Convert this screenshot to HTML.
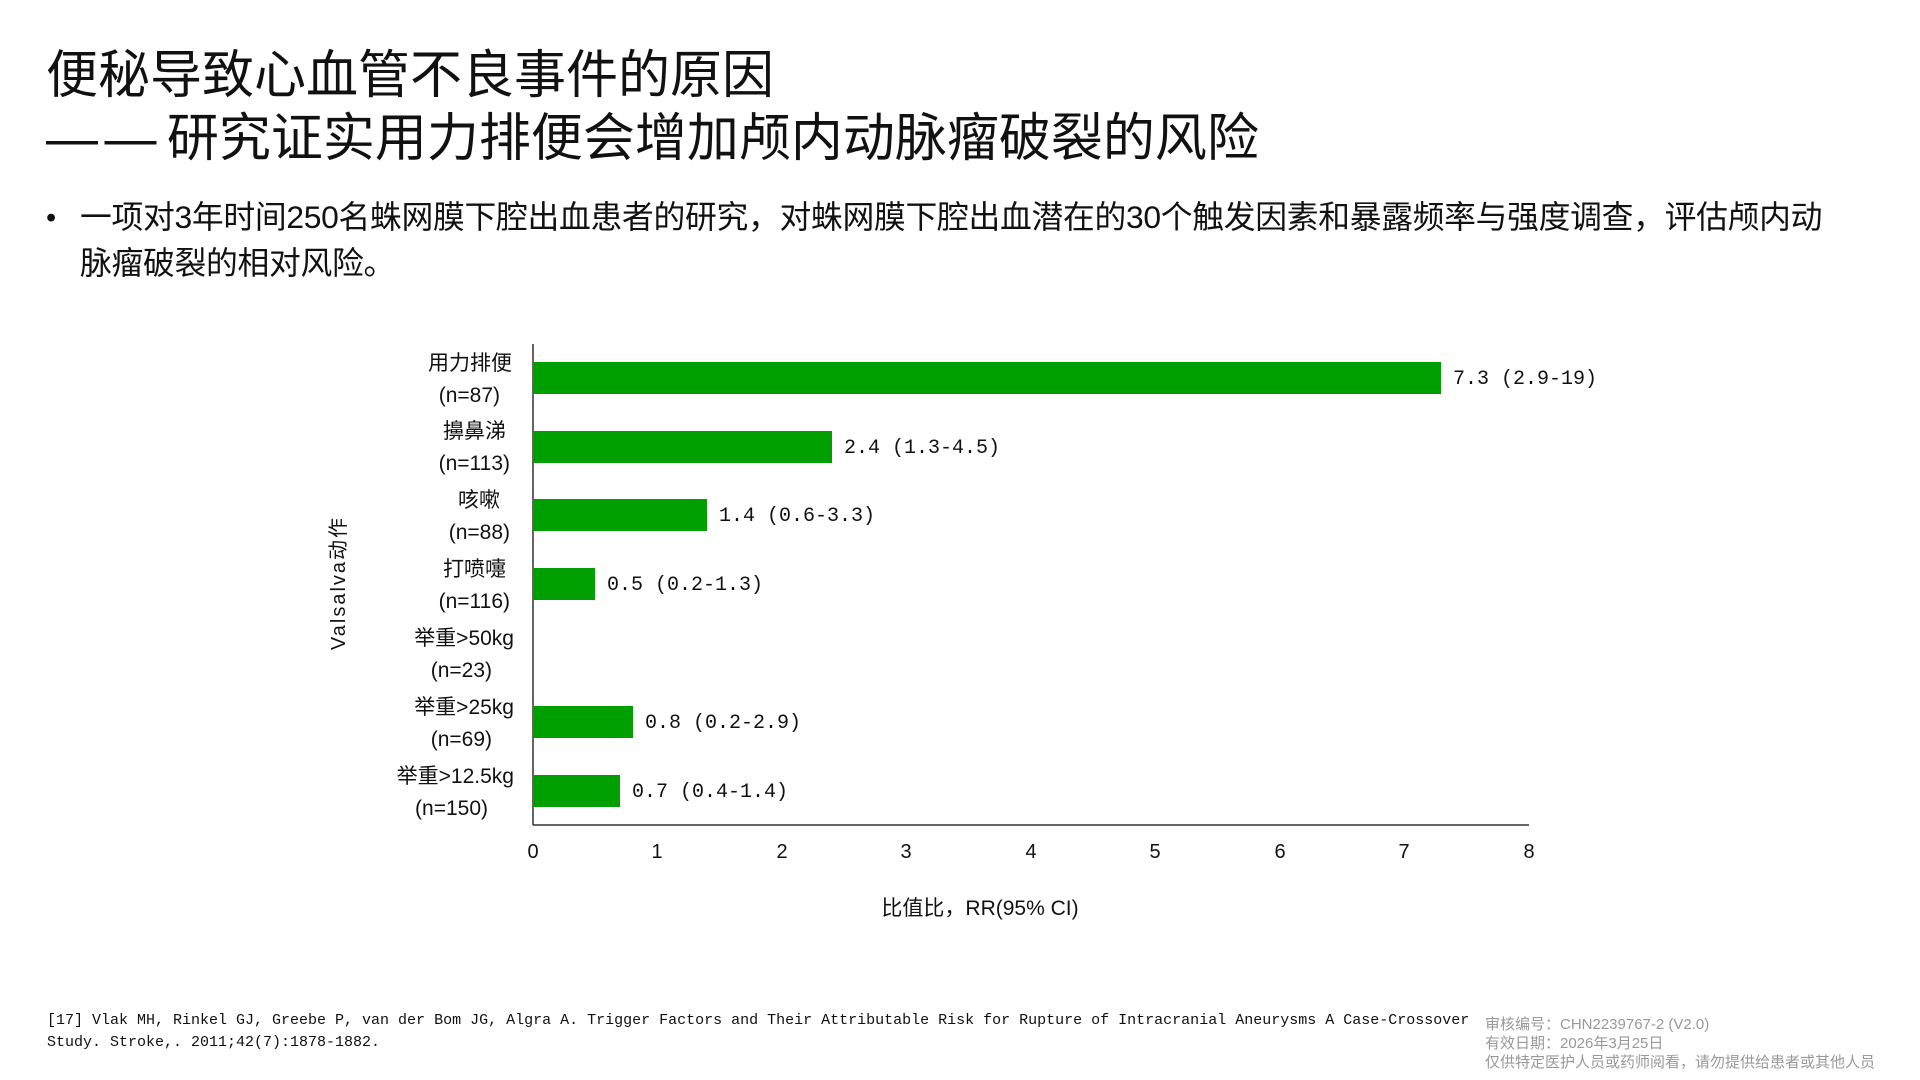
<!DOCTYPE html>
<html><head><meta charset="utf-8"><style>
body{margin:0;width:1920px;height:1080px;background:#fff;overflow:hidden;position:relative;font-family:"Liberation Sans","Noto Sans CJK SC",sans-serif;color:#111}
.t{position:absolute;white-space:nowrap}
</style></head><body>
<div class="t" style="left:46px;top:46px;font-size:52px;line-height:60px">便秘导致心血管不良事件的原因</div>
<div class="t" style="left:46px;top:109px;font-size:52px;line-height:60px"><span style="letter-spacing:-4px">— —</span> 研究证实用力排便会增加颅内动脉瘤破裂的风险</div>
<div class="t" style="left:46px;top:196px;font-size:29px;line-height:44px">•</div>
<div class="t" style="left:80px;top:194px;font-size:31.8px;line-height:46px;letter-spacing:-0.3px">一项对3年时间250名蛛网膜下腔出血患者的研究，对蛛网膜下腔出血潜在的30个触发因素和暴露频率与强度调查，评估颅内动<br>脉瘤破裂的相对风险。</div>
<svg width="1920" height="1080" style="position:absolute;left:0;top:0" font-family="'Liberation Sans','Noto Sans CJK SC',sans-serif">
<line x1="533" y1="344" x2="533" y2="825" stroke="#333" stroke-width="1.5"/>
<line x1="533" y1="825" x2="1529" y2="825" stroke="#333" stroke-width="1.5"/>
<g fill="#009f00">
<rect x="533" y="362" width="908" height="32"/>
<rect x="533" y="431" width="299" height="32"/>
<rect x="533" y="499" width="174" height="32"/>
<rect x="533" y="568" width="62" height="32"/>
<rect x="533" y="706" width="100" height="32"/>
<rect x="533" y="775" width="87" height="32"/>
</g>
<g font-size="20" fill="#111" font-family="'Liberation Mono','Noto Sans CJK SC',monospace">
<text x="1453" y="384">7.3 (2.9-19)</text>
<text x="844" y="453">2.4 (1.3-4.5)</text>
<text x="719" y="521">1.4 (0.6-3.3)</text>
<text x="607" y="590">0.5 (0.2-1.3)</text>
<text x="645" y="728">0.8 (0.2-2.9)</text>
<text x="632" y="797">0.7 (0.4-1.4)</text>
</g>
<g font-size="21" fill="#111" text-anchor="end">
<text x="512" y="370">用力排便</text><text x="500" y="402">(n=87)</text>
<text x="506" y="438">擤鼻涕</text><text x="510" y="470">(n=113)</text>
<text x="500" y="507">咳嗽</text><text x="510" y="539">(n=88)</text>
<text x="506" y="576">打喷嚏</text><text x="510" y="608">(n=116)</text>
<text x="514" y="645">举重&gt;50kg</text><text x="492" y="677">(n=23)</text>
<text x="514" y="714">举重&gt;25kg</text><text x="492" y="746">(n=69)</text>
<text x="514" y="783">举重&gt;12.5kg</text><text x="488" y="815">(n=150)</text>
</g>
<g font-size="20" fill="#111" text-anchor="middle">
<text x="533" y="858">0</text><text x="657" y="858">1</text><text x="782" y="858">2</text><text x="906" y="858">3</text><text x="1031" y="858">4</text><text x="1155" y="858">5</text><text x="1280" y="858">6</text><text x="1404" y="858">7</text><text x="1529" y="858">8</text>
<text x="980" y="915" font-size="21">比值比，RR(95% CI)</text>
<text transform="translate(345,583) rotate(-90)" font-size="20" letter-spacing="2">Valsalva动作</text>
</g>
</svg>
<div class="t" style="left:47px;top:1010px;font-size:15px;line-height:22px;font-family:'Liberation Mono','Noto Sans CJK SC',monospace">[17] Vlak MH, Rinkel GJ, Greebe P, van der Bom JG, Algra A. Trigger Factors and Their Attributable Risk for Rupture of Intracranial Aneurysms A Case-Crossover<br>Study. Stroke,. 2011;42(7):1878-1882.</div>
<div class="t" style="left:1485px;top:1015px;font-size:15px;line-height:19px;color:#999">审核编号：CHN2239767-2 (V2.0)<br>有效日期：2026年3月25日<br>仅供特定医护人员或药师阅看，请勿提供给患者或其他人员</div>
</body></html>
